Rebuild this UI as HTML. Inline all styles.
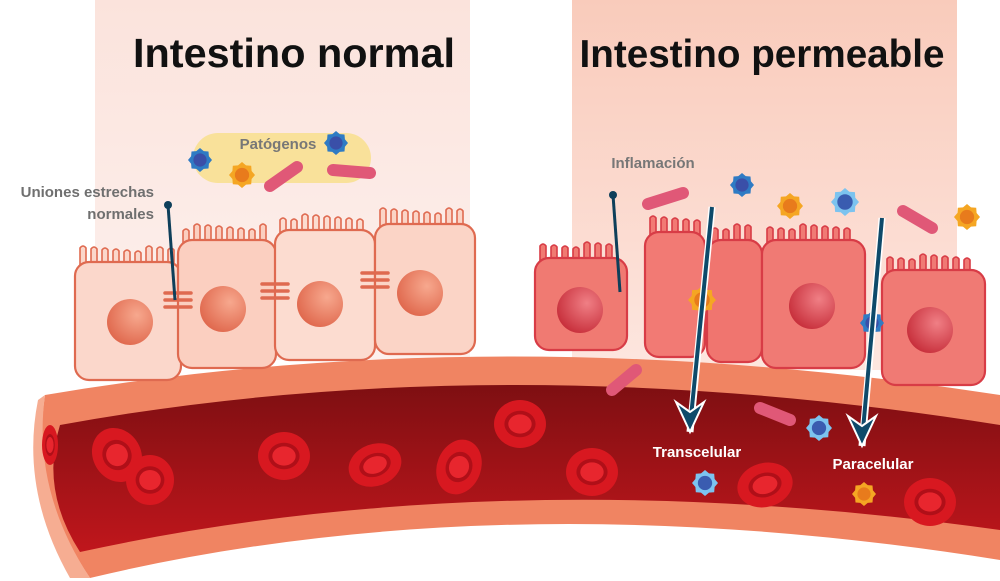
<!DOCTYPE html>
<html><head><meta charset="utf-8"><style>
html,body{margin:0;padding:0;background:#fff;width:1000px;height:581px;overflow:hidden}
svg{display:block}
text{font-family:"Liberation Sans",sans-serif;font-weight:bold}
</style></head><body>
<svg id="s" width="1000" height="581" viewBox="0 0 1000 581" xmlns="http://www.w3.org/2000/svg">
<defs>
<linearGradient id="pl" x1="0" y1="0" x2="0" y2="1"><stop offset="0" stop-color="#fbe3dc"/><stop offset="1" stop-color="#fdf1ee"/></linearGradient>
<linearGradient id="pr" x1="0" y1="0" x2="0" y2="1"><stop offset="0" stop-color="#f9cbbb"/><stop offset="1" stop-color="#fde6df"/></linearGradient>
<linearGradient id="blood" x1="0" y1="0" x2="0" y2="1"><stop offset="0" stop-color="#7e0f12"/><stop offset="1" stop-color="#c0161c"/></linearGradient>
<radialGradient id="nl" cx="0.65" cy="0.35" r="0.7"><stop offset="0" stop-color="#f7a88e"/><stop offset="1" stop-color="#e0694e"/></radialGradient>
<radialGradient id="nr" cx="0.65" cy="0.35" r="0.7"><stop offset="0" stop-color="#f07f85"/><stop offset="1" stop-color="#c8303c"/></radialGradient>
</defs>
<rect x="95" y="0" width="375" height="360" fill="url(#pl)"/>
<rect x="572" y="0" width="385" height="370" fill="url(#pr)"/>
<text x="294" y="67" font-size="41" text-anchor="middle" fill="#111" textLength="322" lengthAdjust="spacingAndGlyphs">Intestino normal</text>
<text x="762" y="67" font-size="39" text-anchor="middle" fill="#111" textLength="365" lengthAdjust="spacingAndGlyphs">Intestino permeable</text>
<rect x="193" y="133" width="178" height="50" rx="25" fill="#f9e19a"/>
<text x="278" y="149" font-size="15" text-anchor="middle" fill="#777">Patógenos</text>
<text x="154" y="197" font-size="15" text-anchor="end" fill="#6f6f6f">Uniones estrechas</text>
<text x="154" y="219" font-size="15" text-anchor="end" fill="#6f6f6f">normales</text>
<text x="653" y="168" font-size="15" text-anchor="middle" fill="#777">Inflamación</text>
<!-- vessel -->
<path d="M45 395 Q500 318 1000 395 L1000 560 Q500 480 90 578 Q30 490 45 395 Z" fill="#f08462"/>
<path d="M60 425 Q500 345 1000 425 L1000 530 Q500 460 80 552 Q40 490 60 425 Z" fill="url(#blood)"/>
<path d="M45 395 Q32 490 90 578 L70 578 Q20 490 38 400 Z" fill="#f6ad92"/>
<g id="cells"></g>
<g id="top"></g>
<g fill="#fff" font-size="15">
<text x="697" y="457" text-anchor="middle">Transcelular</text>
<text x="873" y="469" text-anchor="middle">Paracelular</text>
</g>
</svg>
<script>
var NS="http://www.w3.org/2000/svg";
function el(p,t,a){var e=document.createElementNS(NS,t);for(var k in a)e.setAttribute(k,a[k]);p.appendChild(e);return e;}
var C=document.getElementById('cells'),T=document.getElementById('top');
function villi(x1,x2,y,col,fill){for(var x=x1;x<=x2;x+=11){var h=12+((x*7)%6);el(C,'path',{d:'M'+(x-3)+' '+(y+4)+' L'+(x-3)+' '+(y-h)+' Q'+x+' '+(y-h-4)+' '+(x+3)+' '+(y-h)+' L'+(x+3)+' '+(y+4)+'Z',fill:fill,stroke:col,'stroke-width':1.6});}}
function cell(x,y,w,h,fill,col,nf,nx,ny,nr){villi(x+8,x+w-8,y+3,col,fill);el(C,'rect',{x:x,y:y,width:w,height:h,rx:14,fill:fill,stroke:col,'stroke-width':2.2});if(nr)el(C,'circle',{cx:nx,cy:ny,r:nr,fill:nf});}
cell(75,262,106,118,'#fbd7cb','#df6a50','url(#nl)',130,322,23);
cell(178,240,98,128,'#fbcfc0','#df6a50','url(#nl)',223,309,23);
cell(275,230,100,130,'#fcdcd0','#df6a50','url(#nl)',320,304,23);
cell(375,224,100,130,'#fbd4c6','#df6a50','url(#nl)',420,293,23);
[[165,293],[165,300],[165,307],[262,284],[262,291],[262,298],[362,273],[362,280],[362,287]].forEach(function(p){el(C,'line',{x1:p[0],y1:p[1],x2:p[0]+26,y2:p[1],stroke:'#df6a50','stroke-width':3.5,'stroke-linecap':'round'});});
cell(535,258,92,92,'#f07a72','#d83c46','url(#nr)',580,310,23);
cell(645,232,60,125,'#f27a74','#d83c46',null);
cell(707,240,55,122,'#f0756f','#d83c46',null);
cell(762,240,103,128,'#f07a74','#d83c46','url(#nr)',812,306,23);
cell(882,270,103,115,'#f07a74','#d83c46','url(#nr)',930,330,23);
el(T,'line',{x1:168,y1:205,x2:175,y2:300,stroke:'#0e3f5a','stroke-width':3});el(T,'circle',{cx:168,cy:205,r:4,fill:'#0e3f5a'});
el(T,'line',{x1:613,y1:195,x2:620,y2:292,stroke:'#0e3f5a','stroke-width':3});el(T,'circle',{cx:613,cy:195,r:4,fill:'#0e3f5a'});
function rod(x1,y1,x2,y2){el(T,'line',{x1:x1,y1:y1,x2:x2,y2:y2,stroke:'#e05877','stroke-width':12,'stroke-linecap':'round'});}
function star(cx,cy,r,c1,c2){var d='';for(var i=0;i<16;i++){var a=i*Math.PI/8,rr=i%2?r*0.8:r;d+=(i?'L':'M')+(cx+rr*Math.cos(a)).toFixed(1)+' '+(cy+rr*Math.sin(a)).toFixed(1);}el(T,'path',{d:d+'Z',fill:c1});el(T,'circle',{cx:cx,cy:cy,r:r*0.55,fill:c2});}
var B=['#2f7bc4','#3a4fa8'],O=['#f5a623','#e87b1c'],LB=['#7cc3ef','#3a5cb0'];
rod(270,186,297,167);rod(333,170,370,173);rod(648,204,683,193);rod(903,211,932,228);rod(612,390,636,370);rod(760,408,790,420);
star(200,160,12,B[0],B[1]);star(242,175,13,O[0],O[1]);star(336,143,12,B[0],B[1]);
star(742,185,12,B[0],B[1]);star(790,206,13,O[0],O[1]);star(845,202,14,LB[0],LB[1]);star(967,217,13,O[0],O[1]);
star(702,300,14,O[0],O[1]);star(872,323,12,B[0],B[1]);star(819,428,13,LB[0],LB[1]);star(705,483,13,LB[0],LB[1]);star(864,494,12,O[0],O[1]);
function arrow(x1,y1,x2,y2){el(T,'line',{x1:x1,y1:y1,x2:x2,y2:y2,stroke:'#fff','stroke-width':7});el(T,'line',{x1:x1,y1:y1,x2:x2,y2:y2-5,stroke:'#0e4a6a','stroke-width':4});el(T,'path',{d:'M'+(x2-14)+' '+(y2-30)+' L'+x2+' '+y2+' L'+(x2+14)+' '+(y2-30)+' L'+x2+' '+(y2-20)+'Z',fill:'#0e4a6a',stroke:'#fff','stroke-width':2});}
arrow(712,207,690,432);arrow(882,218,862,446);
function rbc(cx,cy,rx,ry,rot){var g=el(T,'g',{transform:'translate('+cx+' '+cy+') rotate('+rot+')'});el(g,'ellipse',{rx:rx,ry:ry,fill:'#d81820'});el(g,'ellipse',{rx:rx*0.6,ry:ry*0.55,fill:'#b00f18'});el(g,'ellipse',{rx:rx*0.45,ry:ry*0.4,fill:'#e8262e'});}
rbc(117,455,24,28,-30);rbc(150,480,24,25,0);rbc(284,456,26,24,0);rbc(375,465,27,21,-20);rbc(459,467,22,28,20);rbc(520,424,26,24,0);rbc(592,472,26,24,0);rbc(765,485,28,22,-15);rbc(930,502,26,24,0);rbc(50,445,8,20,0);
</script>
</body></html>
